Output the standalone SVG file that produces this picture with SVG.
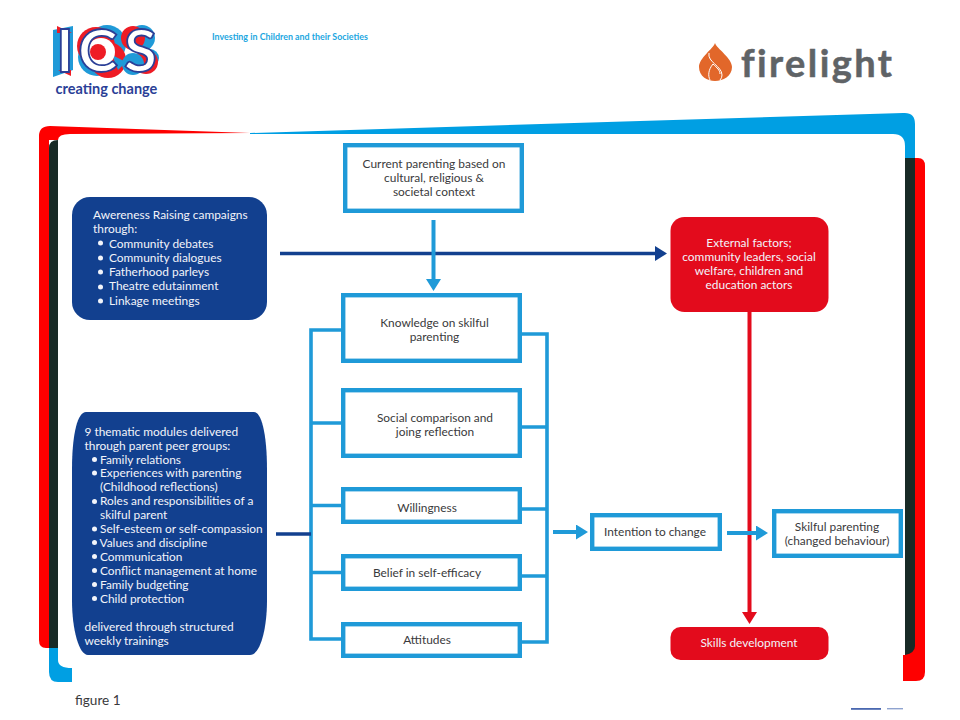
<svg xmlns="http://www.w3.org/2000/svg" width="960" height="720" viewBox="0 0 960 720">
<defs>
<marker id="hb" markerUnits="userSpaceOnUse" markerWidth="12" markerHeight="15" refX="0" refY="7.500" orient="auto"><path d="M0 0L12 7.500L0 15Z" fill="#1f9ad8"/></marker>
<marker id="hn" markerUnits="userSpaceOnUse" markerWidth="12" markerHeight="15" refX="0" refY="7.500" orient="auto"><path d="M0 0L12 7.500L0 15Z" fill="#12408f"/></marker>
<marker id="hr" markerUnits="userSpaceOnUse" markerWidth="12" markerHeight="15" refX="0" refY="7.500" orient="auto"><path d="M0 0L12 7.500L0 15Z" fill="#e30b1c"/></marker>
</defs>
<style>
text{font-family:"Lato","Open Sans",sans-serif;font-size:11.900px}
.d{fill:#3a3a3c;text-anchor:middle}
.w{fill:#f2f4fa}
.m{text-anchor:middle}
.box{fill:#fff;stroke:#1f9ad8;stroke-width:4.400}
.bus{fill:none;stroke:#1f9ad8;stroke-width:3.600}
.lb{stroke:#1f9ad8;stroke-width:4;fill:none}
.nv{fill:#12408f}
.rd{fill:#e30b1c}
.dot{fill:#f2f4fa}
</style>
<rect width="960" height="720" fill="#fff"/>
<g id="frame">
<path d="M915 158H918Q925 158 925 166V672Q925 681 916 681H903V655H905V158Z" fill="#fe0000"/>
<path d="M49 140V648H46Q39 648 39 640V136Q39 126 50 126L250 133L70 134Q58 134 58 140Z" fill="#fe0000"/>
<path d="M250 133L903 113Q915 112 915 124V158H905V146Q905 134 893 134L250 134Z" fill="#009fe3"/>
<path d="M49 648H58V660Q58 668 72 668V682H58Q49 682 49 672Z" fill="#009fe3"/>
<path d="M49 148Q49 140 58 140V648H49Z" fill="#182a26"/>
<path d="M905 158H915V646Q915 653 905 655Z" fill="#182a26"/>
<rect x="851" y="708" width="30" height="1.800" fill="#4a68b0"/>
<rect x="887" y="708" width="16" height="1.400" fill="#8fa3cf"/>
</g>
<g id="ics-logo">
<path d="M53 30L73 26V70L53 77Z" fill="#1f9ad8"/>
<path d="M57 26L72 33H57ZM58 70H71V76Z" fill="#ee1c25"/>
<circle cx="107" cy="44" r="19" fill="#1f9ad8"/>
<circle cx="97" cy="57" r="19" fill="#1f9ad8"/>
<circle cx="96" cy="46" r="19" fill="#ee1c25"/>
<circle cx="108" cy="60" r="18" fill="#ee1c25"/>
<path d="M112 55L126 62L118 70Z" fill="#1f9ad8"/>
<circle cx="101" cy="52" r="14" fill="#fff"/>
<circle cx="98" cy="52" r="8" fill="#ee1c25"/>
<circle cx="142" cy="38" r="13" fill="#1f9ad8"/>
<circle cx="150" cy="58" r="9" fill="#1f9ad8"/>
<circle cx="133" cy="38" r="12" fill="#ee1c25"/>
<circle cx="146" cy="62" r="12" fill="#ee1c25"/>
<circle cx="133" cy="64" r="11" fill="#1f9ad8"/>
<text x="56 78 124" y="72" style="font-size:60px;font-weight:700" fill="#fff" stroke="#2b3f97" stroke-width="1.800">ICS</text>
<text x="55.500" y="94" style="font-size:14.500px;font-weight:700" fill="#2b3f97">creating change</text>
</g>
<text x="212" y="40" style="font-size:8.900px;font-weight:700" fill="#1ca7df">Investing in Children and their Societies</text>
<g id="firelight-logo">
<path d="M715 43C717 49 732 58 732 67C732 76 723 81 715 81C707 81 699 76 699 67C699 58 713 49 715 43Z" fill="#e2672a"/>
<path d="M709 53C707 62 722 66 722 75Q722 78 720 80M713 64C708 70 708 76 710 80M713 64C717 68 720 70 720 74" fill="none" stroke="#fff" stroke-width="1"/>
<text x="741" y="76.500" style="font-size:38px;font-weight:700;letter-spacing:2.400px" fill="#5f6366" stroke="#5f6366" stroke-width="0.500">firelight</text>
</g>
<g id="connectors">
<path class="bus" d="M341 330H311V639H341M311 423H341M311 505.500H341M311 572.500H341"/>
<path class="bus" d="M522 334H547V642H522M522 427H547M522 509H547M522 576H547"/>
<path d="M276 534H311" stroke="#12408f" stroke-width="3.600" fill="none"/>
<path d="M280 253.500H655" stroke="#12408f" stroke-width="3.600" fill="none" marker-end="url(#hn)"/>
<path class="lb" d="M433.500 220V279" marker-end="url(#hb)"/>
<path d="M749.500 310V612" stroke="#e30b1c" stroke-width="4" fill="none" marker-end="url(#hr)"/>
<path class="lb" d="M553 532H576" marker-end="url(#hb)"/>
<path class="lb" d="M727 533H756" marker-end="url(#hb)"/>
</g>
<g id="n-awareness">
<rect x="72" y="197" width="195" height="123" rx="18" class="nv"/>
<text class="w" x="93" y="219">Awereness Raising campaigns</text>
<text class="w" x="93" y="233">through:</text>
<circle class="dot" cx="100.500" cy="243" r="2.500"/><text class="w" x="109" y="247.500">Community debates</text>
<circle class="dot" cx="100.500" cy="258" r="2.500"/><text class="w" x="109" y="261.500">Community dialogues</text>
<circle class="dot" cx="100.500" cy="272" r="2.500"/><text class="w" x="109" y="276">Fatherhood parleys</text>
<circle class="dot" cx="100.500" cy="287" r="2.500"/><text class="w" x="109" y="290">Theatre edutainment</text>
<circle class="dot" cx="100.500" cy="301" r="2.500"/><text class="w" x="109" y="304.500">Linkage meetings</text>
</g>
<g id="n-modules">
<path class="nv" d="M86 412H254C261 412 267 432 267 470V600C267 630 260 655 250 655H88C79 655 72 630 72 600V470C72 432 78 412 86 412Z"/>
<text class="w" x="84.500" y="436">9 thematic modules delivered</text>
<text class="w" x="84.500" y="449.500">through parent peer groups:</text>
<circle class="dot" cx="94.500" cy="459.500" r="2.500"/><text class="w" x="100" y="463.500">Family relations</text>
<circle class="dot" cx="94.500" cy="473" r="2.500"/><text class="w" x="100" y="477">Experiences with parenting</text>
<text class="w" x="100" y="491">(Childhood reflections)</text>
<circle class="dot" cx="94.500" cy="501.500" r="2.500"/><text class="w" x="100" y="505">Roles and responsibilities of a</text>
<text class="w" x="100" y="519">skilful parent</text>
<circle class="dot" cx="94.500" cy="529" r="2.500"/><text class="w" x="100" y="533">Self-esteem or self-compassion</text>
<circle class="dot" cx="94.500" cy="542.500" r="2.500"/><text class="w" x="99.500" y="546.500">Values and discipline</text>
<circle class="dot" cx="94.500" cy="556.500" r="2.500"/><text class="w" x="100" y="560.500">Communication</text>
<circle class="dot" cx="94.500" cy="570.500" r="2.500"/><text class="w" x="100" y="574.500">Conflict management at home</text>
<circle class="dot" cx="94.500" cy="584.500" r="2.500"/><text class="w" x="100" y="588.500">Family budgeting</text>
<circle class="dot" cx="94.500" cy="598.500" r="2.500"/><text class="w" x="100" y="602.500">Child protection</text>
<text class="w" x="84.500" y="631">delivered through structured</text>
<text class="w" x="84.500" y="644.500">weekly trainings</text>
</g>
<g id="n-current">
<rect class="box" x="345.200" y="145.200" width="176.600" height="65.600"/>
<text class="d" x="434" y="168">Current parenting based on</text>
<text class="d" x="434" y="182">cultural, religious &amp;</text>
<text class="d" x="434" y="196">societal context</text>
</g>
<g id="n-knowledge">
<rect class="box" x="343.200" y="295.200" width="176.600" height="65.600"/>
<text class="d" x="434.500" y="327">Knowledge on skilful</text>
<text class="d" x="434.500" y="341">parenting</text>
</g>
<g id="n-social">
<rect class="box" x="343.200" y="390.200" width="176.600" height="65.600"/>
<text class="d" x="435" y="422">Social comparison and</text>
<text class="d" x="435" y="436">joing reflection</text>
</g>
<g id="n-willingness">
<rect class="box" x="343.200" y="489.200" width="176.600" height="32.600"/>
<text class="d" x="427" y="511.500">Willingness</text>
</g>
<g id="n-belief">
<rect class="box" x="343.200" y="556.200" width="176.600" height="32.600"/>
<text class="d" x="427" y="576.500">Belief in self-efficacy</text>
</g>
<g id="n-attitudes">
<rect class="box" x="343.200" y="624.200" width="176.600" height="31.600"/>
<text class="d" x="427" y="643.500">Attitudes</text>
</g>
<g id="n-external">
<rect class="rd" x="670.500" y="217" width="158" height="95" rx="14"/>
<text class="w m" x="749" y="247">External factors;</text>
<text class="w m" x="749" y="261">community leaders, social</text>
<text class="w m" x="749" y="275">welfare, children and</text>
<text class="w m" x="749" y="289">education actors</text>
</g>
<g id="n-skills">
<rect class="rd" x="670.500" y="627" width="158" height="33" rx="10"/>
<text class="w m" x="749" y="647">Skills development</text>
</g>
<g id="n-intention">
<rect class="box" x="592.200" y="515.200" width="127.600" height="33.600"/>
<text class="d" x="655" y="536">Intention to change</text>
</g>
<g id="n-skilful">
<rect class="box" x="774.200" y="511.200" width="126.600" height="44.600"/>
<text class="d" x="837" y="531">Skilful parenting</text>
<text class="d" x="837" y="545">(changed behaviour)</text>
</g>
<text x="75" y="705" style="font-size:13.600px" fill="#3a3a3c">figure 1</text>
</svg>
